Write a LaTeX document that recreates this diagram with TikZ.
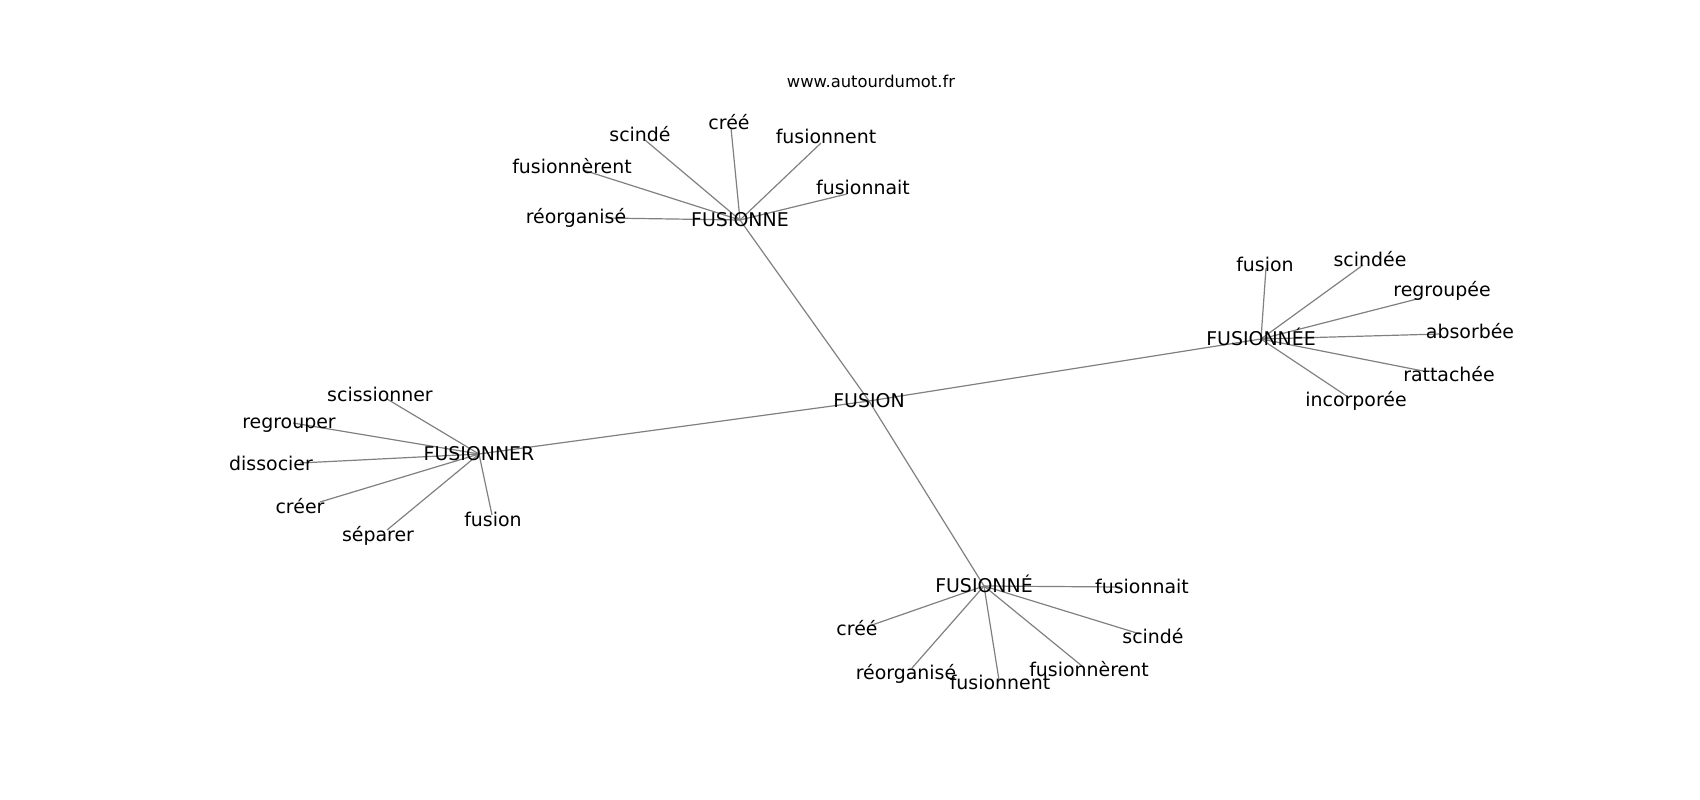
\documentclass[tikz,border=0pt]{standalone}
\usepackage{fontspec}
\setmainfont{DejaVu Sans}
\pgfdeclarelayer{bg}
\pgfsetlayers{bg,main}
\begin{document}
\begin{tikzpicture}[x=1bp,y=-1bp,
  word/.style={inner sep=0pt, text height=1.32em, text depth=0pt, font=\fontsize{19}{22}\selectfont, text=black},
  titletext/.style={inner sep=0pt, text height=1.32em, text depth=0pt, font=\fontsize{16.4}{20}\selectfont, text=black},
  link/.style={draw=black!50, line width=1.2bp}]
\useasboundingbox (0,0) rectangle (1700,800);
\node[titletext] (site) at (871,81) {www.autourdumot.fr};
% hubs
\node[word] (fusion) at (869,401) {FUSION};
\node[word] (fusionne) at (740,220) {FUSIONNE};
\node[word] (fusionner) at (479,454) {FUSIONNER};
\node[word] (fusionneee) at (1261,339) {FUSIONNÉE};
\node[word] (fusionnee) at (984,586) {FUSIONNÉ};
% leaves
\foreach \n/\tx/\ty/\ex/\ey/\h/\w in {
  a1/640/135/645/140/fusionne/scindé,
  a2/729/123/731/128/fusionne/créé,
  a3/826/137/821/143/fusionne/fusionnent,
  a4/572/167/583/170/fusionne/fusionnèrent,
  a5/576/217/605/218/fusionne/réorganisé,
  a6/863/188/847/194/fusionne/fusionnait,
  b1/380/395/387/399/fusionner/scissionner,
  b2/289/422/293/423/fusionner/regrouper,
  b3/271/464/300/463/fusionner/dissocier,
  b4/300/507/320/502/fusionner/créer,
  b5/378/535/387/530/fusionner/séparer,
  b6/493/520/492/515/fusionner/fusion,
  c1/1265/265/1266/268/fusionneee/fusion,
  c2/1370/260/1363/265/fusionneee/scindée,
  c3/1442/290/1417/299/fusionneee/regroupée,
  c4/1470/332/1440/334/fusionneee/absorbée,
  c5/1449/375/1423/371/fusionneee/rattachée,
  c6/1356/400/1348/397/fusionneee/incorporée,
  d1/1142/587/1120/587/fusionnee/fusionnait,
  d2/857/629/872/625/fusionnee/créé,
  d3/906/673/912/668/fusionnee/réorganisé,
  d4/1000/683/999/680/fusionnee/fusionnent,
  d5/1089/670/1082/666/fusionnee/fusionnèrent,
  d6/1153/637/1140/634/fusionnee/scindé}
{
  \node[word] (\n) at (\tx,\ty) {\w};
  \coordinate (e-\n) at (\ex,\ey);
  \begin{pgfonlayer}{bg}
    \draw[link] (\h.center) -- (e-\n);
  \end{pgfonlayer}
}
\begin{pgfonlayer}{bg}
  \draw[link] (fusion.center) -- (fusionne.center);
  \draw[link] (fusion.center) -- (fusionner.center);
  \draw[link] (fusion.center) -- (fusionneee.center);
  \draw[link] (fusion.center) -- (fusionnee.center);
\end{pgfonlayer}
\end{tikzpicture}
\end{document}
